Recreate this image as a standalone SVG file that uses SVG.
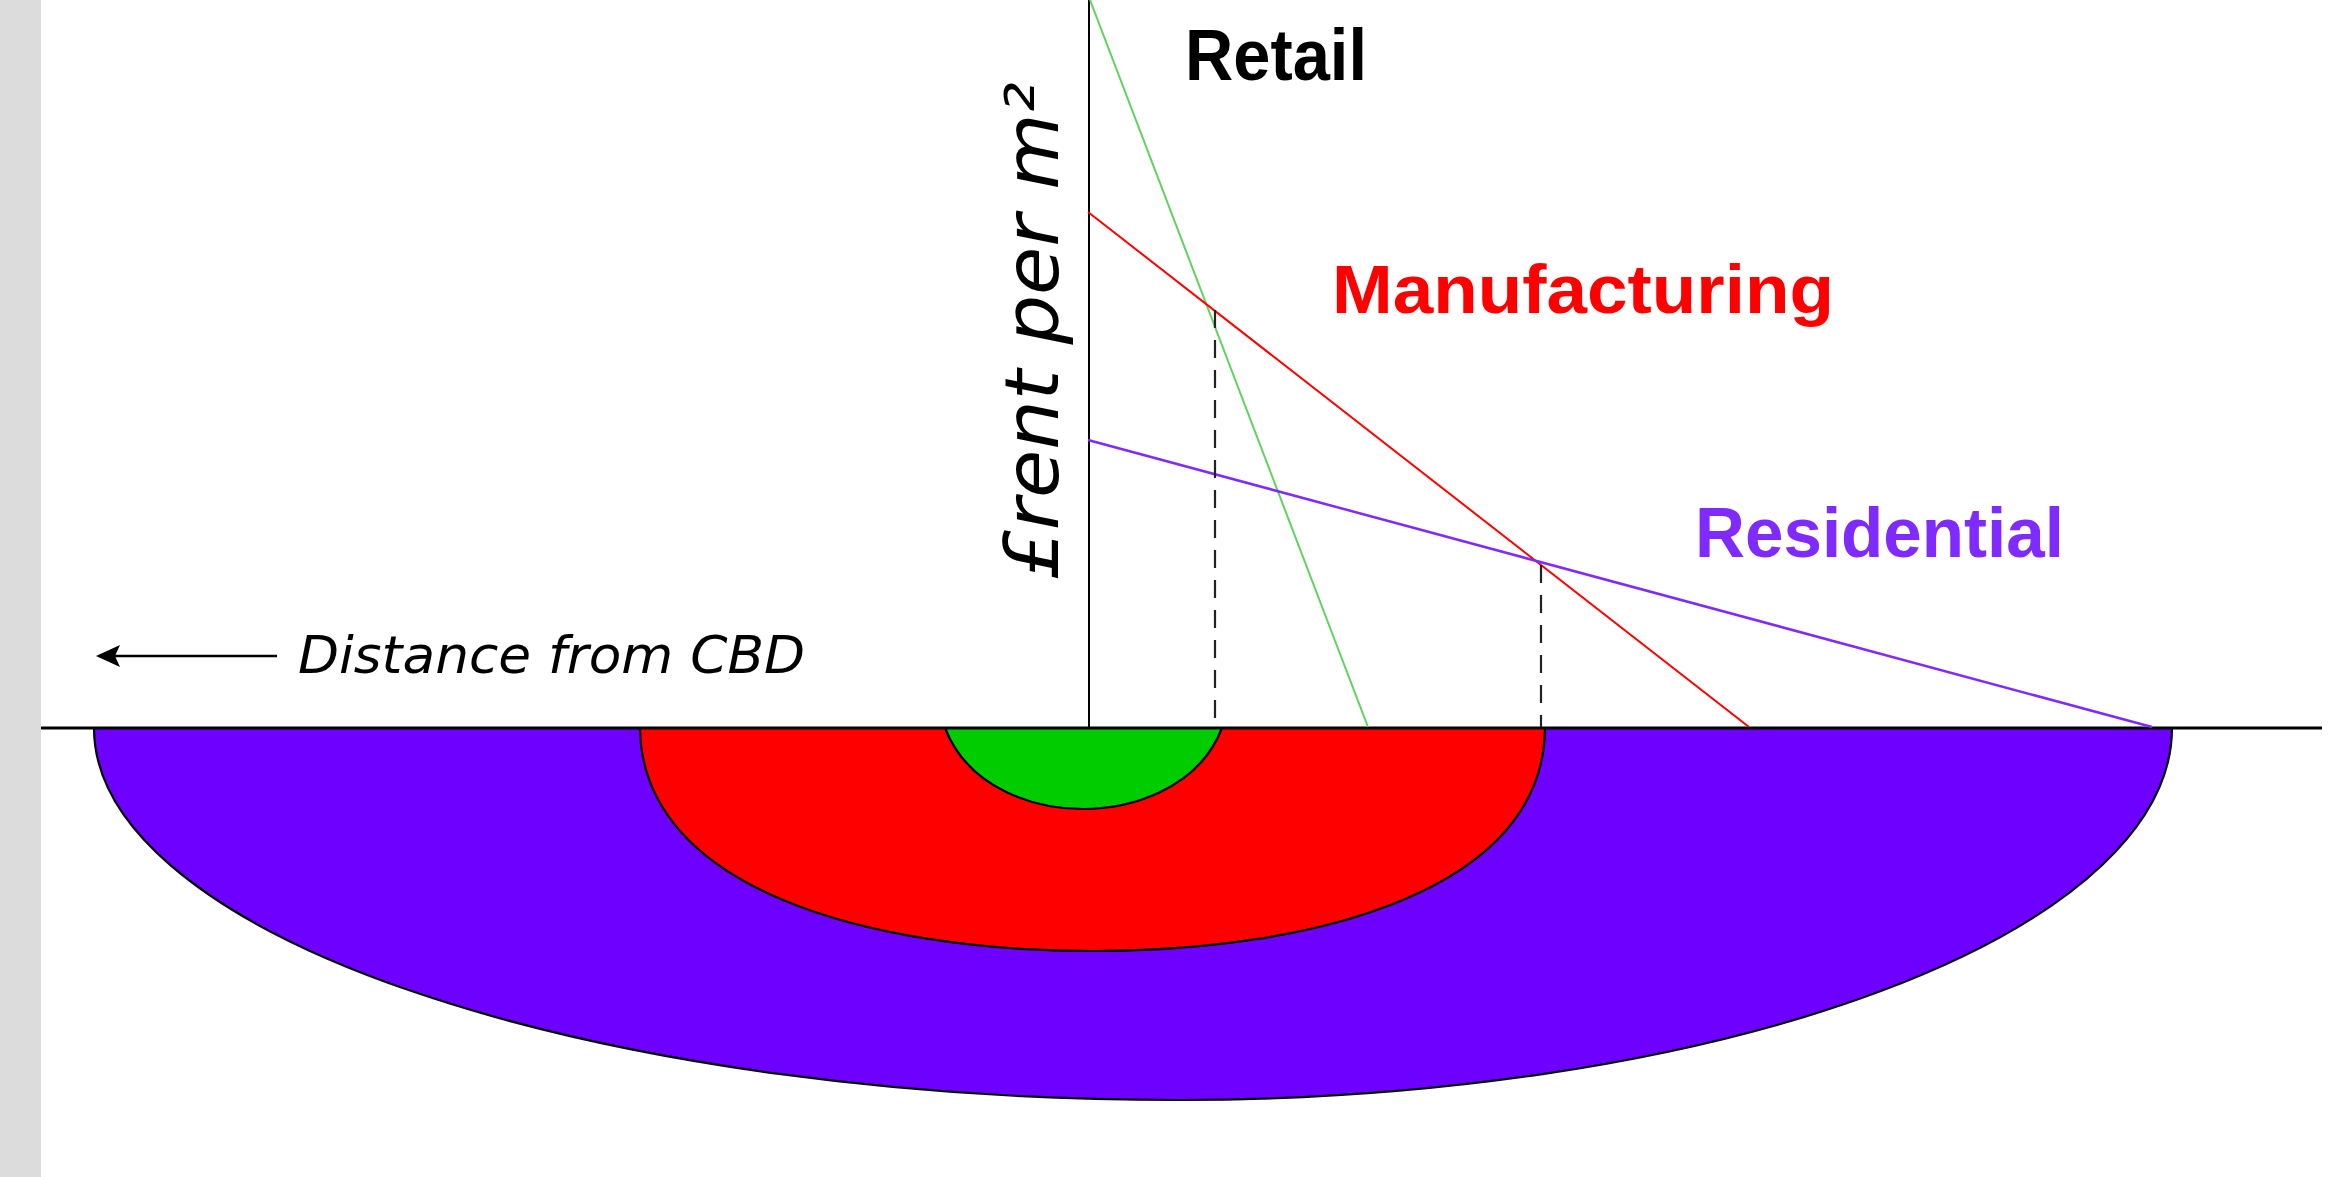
<svg xmlns="http://www.w3.org/2000/svg" width="2330" height="1177" viewBox="0 0 2330 1177">
  <style>
    .zone { stroke: #000; stroke-width: 2.2; }
    .lbl { font-family: "Liberation Sans", Arial, sans-serif; font-weight: bold; }
    .axislbl { font-family: "DejaVu Sans", Verdana, sans-serif; font-style: oblique; fill: #000; }
    .dash { stroke: #222; stroke-width: 2.2; stroke-dasharray: 18 12; fill: none; }
  </style>
  <rect x="0" y="0" width="2330" height="1177" fill="#ffffff"/>
  <rect x="0" y="0" width="41" height="1177" fill="#dcdcdc"/>

  <g id="zones">
    <g id="zone-residential">
      <path class="zone" fill="#6e00ff" d="M94,728 A1084,372 0 0 0 1178,1100 A994,372 0 0 0 2172,728 Z"/>
    </g>
    <g id="zone-manufacturing">
      <path class="zone" fill="#ff0000" d="M640,728 C642,890 870,951 1093,951 C1316,951 1544,890 1545,728 Z"/>
    </g>
    <g id="zone-retail">
      <path class="zone" fill="#00cc00" d="M945,728 C970,792 1040,809 1083,809 C1126,809 1197,792 1222,728 Z"/>
    </g>
  </g>

  <g id="connectors">
    <line x1="1089" y1="0" x2="1089" y2="728" stroke="#000" stroke-width="2"/>
    <line x1="41" y1="728" x2="2322" y2="728" stroke="#000" stroke-width="3"/>
    <line x1="1090" y1="0" x2="1368" y2="727" stroke="#5fd35f" stroke-width="2"/>
    <line x1="1088" y1="212" x2="1749" y2="727" stroke="#ff0000" stroke-width="2"/>
    <line x1="1088" y1="440" x2="2152" y2="727" stroke="#7f2aff" stroke-width="2.5"/>
    <line class="dash" x1="1215" y1="310" x2="1215" y2="727"/>
    <line class="dash" x1="1541" y1="565" x2="1541" y2="727"/>
    <line x1="115" y1="656" x2="277" y2="656" stroke="#000" stroke-width="2.5"/>
    <path d="M96,656 L120,645 L115,656 L120,667 Z" fill="#000"/>
  </g>

  <g id="label-retail">
    <text class="lbl" x="1185" y="80" font-size="72" fill="#000" textLength="182" lengthAdjust="spacingAndGlyphs">Retail</text>
  </g>
  <g id="label-manufacturing">
    <text class="lbl" x="1332" y="313" font-size="68" fill="#ff0000" textLength="502" lengthAdjust="spacingAndGlyphs">Manufacturing</text>
  </g>
  <g id="label-residential">
    <text class="lbl" x="1695" y="557" font-size="70" fill="#7f2aff" textLength="369" lengthAdjust="spacingAndGlyphs">Residential</text>
  </g>
  <g id="label-distance">
    <text class="axislbl" x="298" y="673" font-size="52" textLength="507" lengthAdjust="spacingAndGlyphs">Distance from CBD</text>
  </g>
  <g id="label-rent">
    <text class="axislbl" transform="translate(1058,580) rotate(-90)" x="0" y="0" font-size="74" textLength="498" lengthAdjust="spacingAndGlyphs">£rent per m²</text>
  </g>
</svg>
